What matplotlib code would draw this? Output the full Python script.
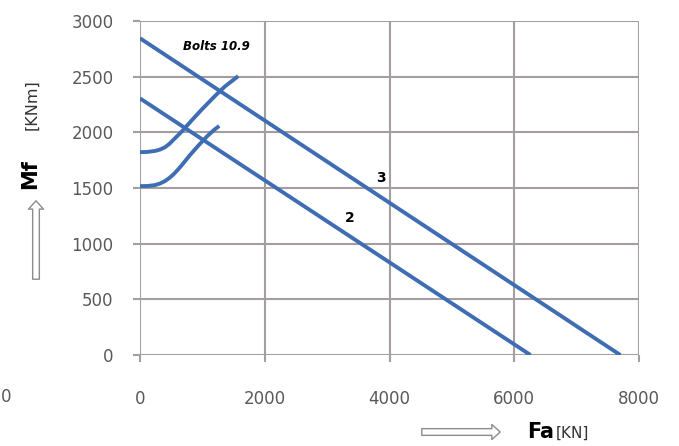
import matplotlib
matplotlib.use("Agg")
import matplotlib.pyplot as plt
from matplotlib.patches import FancyArrowPatch

# straight limit lines (Fa [kN], Mf [kNm])
line3_x = [0, 7700]
line3_y = [2845, 0]
line2_x = [0, 6260]
line2_y = [2305, 0]

# bolt curves
curve_up_x = [0, 120, 240, 320, 400, 470, 534, 600, 667, 750, 827, 988, 1201, 1361, 1575]
curve_up_y = [1822, 1824, 1833, 1845, 1866, 1896, 1932, 1968, 2006, 2058, 2106, 2204, 2326, 2412, 2505]
curve_lo_x = [0, 120, 240, 320, 400, 470, 534, 600, 667, 800, 934, 1068, 1180, 1270]
curve_lo_y = [1517, 1518, 1526, 1540, 1562, 1590, 1621, 1660, 1703, 1795, 1880, 1960, 2018, 2058]

xticks = [0, 2000, 4000, 6000, 8000]
yticks = [0, 500, 1000, 1500, 2000, 2500, 3000]

blue = "#3f6db3"
gridc = "#a49f9e"
tickc = "#595959"

fig = plt.figure(figsize=(6.79, 4.46), dpi=100)
ax = fig.add_axes([140/679, 1-355/446, 499/679, 334/446])

for xs, ys in [(line3_x, line3_y), (line2_x, line2_y),
               (curve_up_x, curve_up_y), (curve_lo_x, curve_lo_y)]:
    ax.plot(xs, ys, color=blue, lw=2.8, solid_capstyle="butt",
            solid_joinstyle="round", zorder=3)

ax.set_xlim(0, 8000)
ax.set_ylim(0, 3000)
ax.set_xticks(xticks)
ax.set_yticks(yticks)
ax.grid(True, color=gridc, lw=1.5, zorder=1)
for s in ax.spines.values():
    s.set_visible(False)
ax.tick_params(axis="both", length=5, width=1.5, color=gridc,
               labelcolor=tickc, labelsize=12)
ax.tick_params(axis="y", pad=14)
ax.tick_params(axis="x", pad=20)

ax.text(1220, 2770, "Bolts 10.9", fontsize=8.5, fontweight="bold",
        fontstyle="italic", ha="center", va="center")
ax.text(3860, 1590, "3", fontsize=10, fontweight="bold", ha="center", va="center")
ax.text(3360, 1230, "2", fontsize=10, fontweight="bold", ha="center", va="center")

# axis titles
fig.text(30/679, 1-174/446, "Mf", rotation=90, fontsize=15, fontweight="bold",
         ha="center", va="center")
fig.text(32/679, 1-105/446, "[KNm]", rotation=90, fontsize=11.5,
         ha="center", va="center", color="#333333")
fig.text(527/679, 1-432/446, "Fa", fontsize=15, fontweight="bold",
         ha="left", va="center")
fig.text(556/679, 1-433/446, "[KN]", fontsize=11, ha="left", va="center",
         color="#333333")

# stray label of neighbouring chart
fig.text(6/679, 1-397/446, "0", fontsize=12, color=tickc, ha="center", va="center")

# hollow arrows
arr_kw = dict(arrowstyle="simple,head_length=0.5,head_width=0.9,tail_width=0.4",
              mutation_scale=12, fc="white", ec="#8c8c8c", lw=1.0,
              transform=fig.transFigure)
fig.patches.append(FancyArrowPatch((36/679, 1-282/446), (36/679, 1-198/446), **arr_kw))
fig.patches.append(FancyArrowPatch((419/679, 1-432/446), (503/679, 1-432/446), **arr_kw))

fig.savefig("out.png", dpi=100)
